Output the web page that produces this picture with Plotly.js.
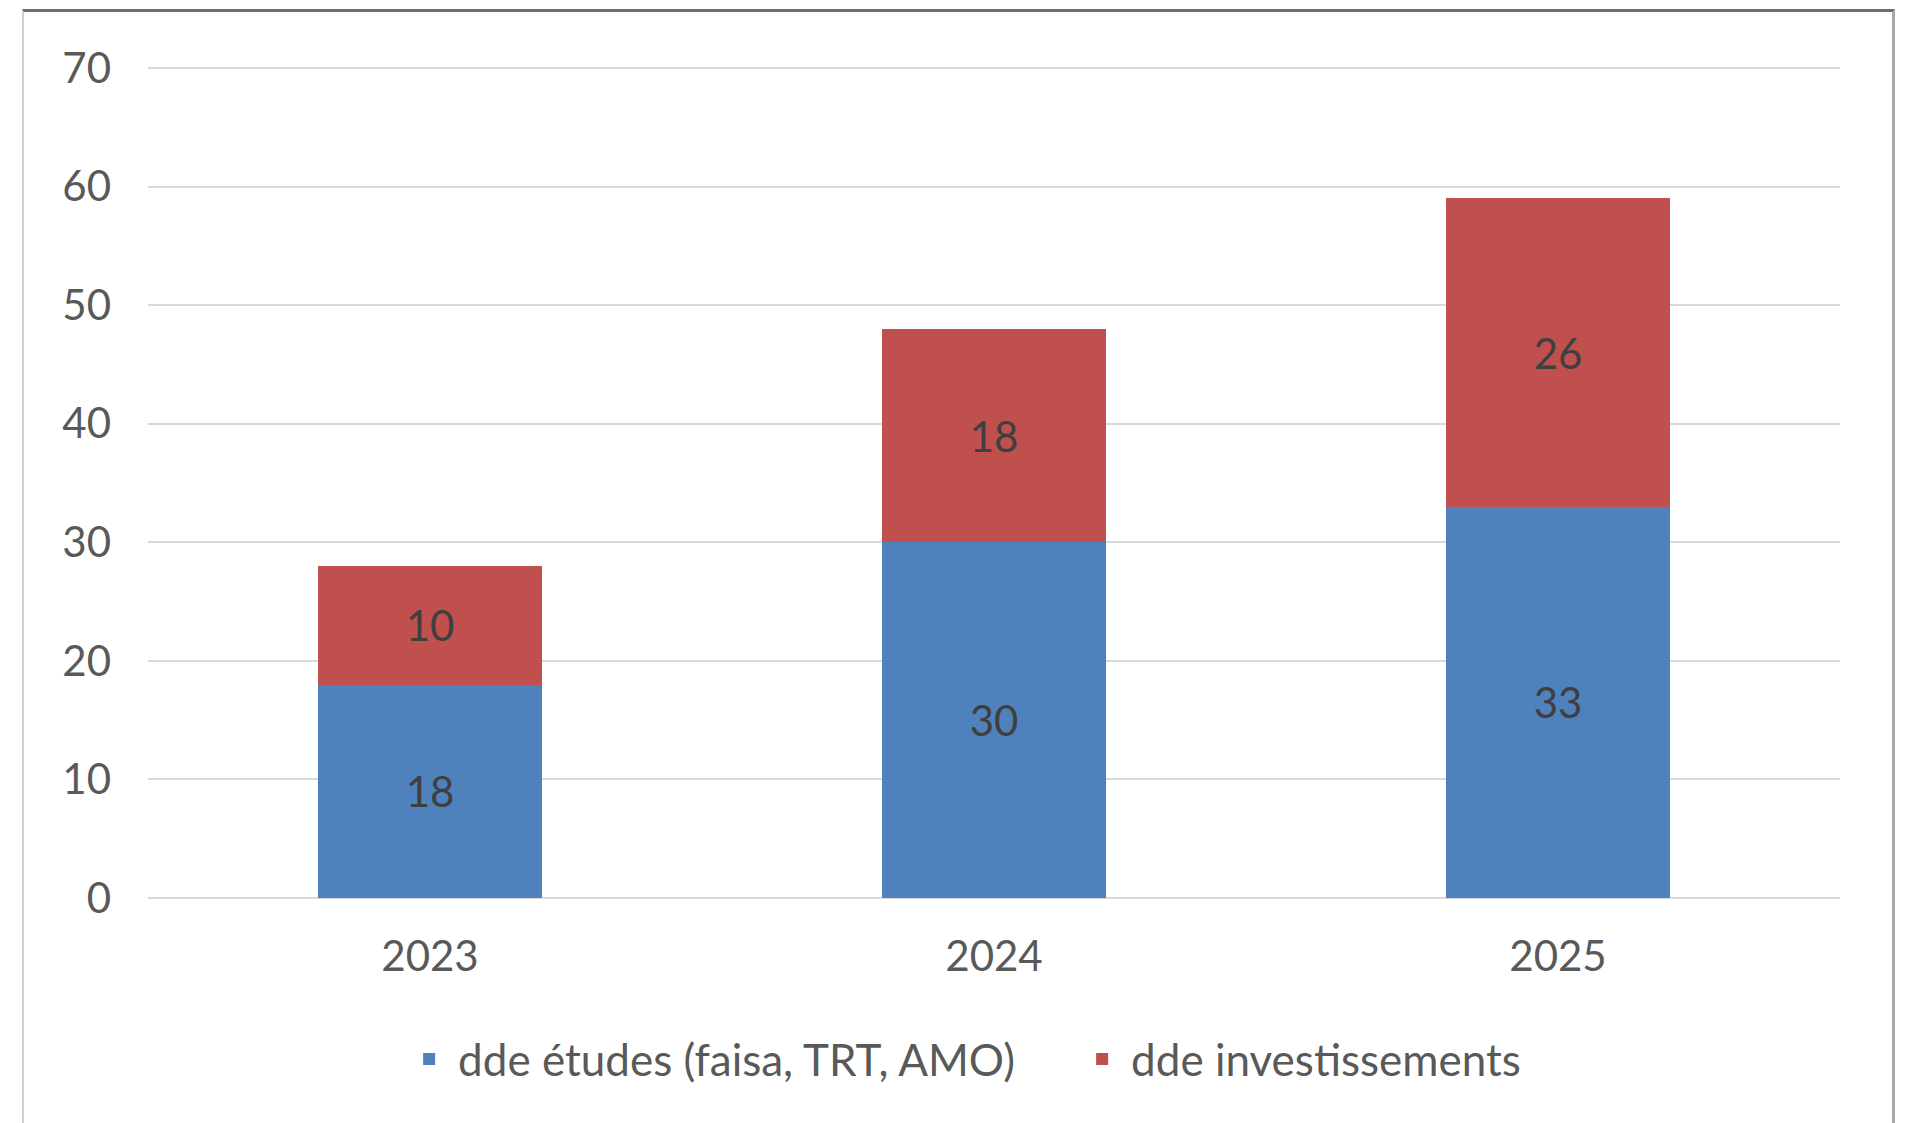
<!DOCTYPE html>
<html>
<head>
<meta charset="utf-8">
<script src="https://cdn.plot.ly/plotly-3.0.1.min.js"></script>
<style>
  html, body { margin: 0; padding: 0; background: #ffffff; }
  #frame { position: absolute; left: 22px; top: 9px; width: 1873px; height: 1130px;
           border-top: 3px solid #6e6e6e; border-left: 2px solid #d0d0d0; border-right: 3px solid #a8a8a8; box-sizing: border-box; }
  #chart { position: absolute; left: 0; top: 0; width: 1910px; height: 1123px; }
</style>
</head>
<body>
<div id="frame"></div>
<div id="chart"></div>
<script>
const years = ['2023', '2024', '2025'];
const etudes = [18, 30, 33];
const investissements = [10, 18, 26];
const seriesNames = ['dde études (faisa, TRT, AMO)', 'dde investissements'];
const yTicks = [0, 10, 20, 30, 40, 50, 60, 70];

const FONT = 'Lato, "Open Sans", sans-serif';
const FS = 42;
const labelFont = { family: FONT, size: FS, color: '#3f3f3f' };

const traces = [
  {
    type: 'bar', name: seriesNames[0], x: years, y: etudes,
    marker: { color: '#4F81BD' },
    text: etudes.map(String), textposition: 'inside', insidetextanchor: 'middle',
    textfont: labelFont, hoverinfo: 'x+y+name'
  },
  {
    type: 'bar', name: seriesNames[1], x: years, y: investissements,
    marker: { color: '#C0504D' },
    text: investissements.map(String), textposition: 'inside', insidetextanchor: 'middle',
    textfont: labelFont, hoverinfo: 'x+y+name'
  }
];

const layout = {
  width: 1910, height: 1123,
  margin: { l: 148, r: 70, t: 62, b: 225 },
  paper_bgcolor: 'rgba(0,0,0,0)', plot_bgcolor: 'rgba(0,0,0,0)',
  barmode: 'stack', bargap: 0.603,
  showlegend: true,
  font: { family: FONT, size: FS, color: '#595959' },
  xaxis: {
    type: 'category', showgrid: false, zeroline: false, showline: false,
    ticks: '', ticklabelstandoff: 30,
    tickfont: { family: FONT, size: FS, color: '#595959' }
  },
  yaxis: {
    range: [0, 70.5], tickvals: yTicks, ticktext: yTicks.map(String),
    showgrid: true, gridcolor: '#d9d9d9', gridwidth: 2,
    zeroline: true, zerolinecolor: '#d9d9d9', zerolinewidth: 2,
    showline: false, ticks: '', ticklabelstandoff: 36,
    tickfont: { family: FONT, size: FS, color: '#595959' }
  },
  legend: {
    orientation: 'h', x: 0.149, xanchor: 'left', y: -0.193, yanchor: 'middle',
    font: { family: FONT, size: 44, color: '#595959' },
    itemwidth: 48, entrywidth: 610, entrywidthmode: 'pixels',
    tracegroupgap: 0, traceorder: 'normal'
  }
};

Plotly.newPlot('chart', traces, layout, { displayModeBar: false, staticPlot: true });
</script>
</body>
</html>
